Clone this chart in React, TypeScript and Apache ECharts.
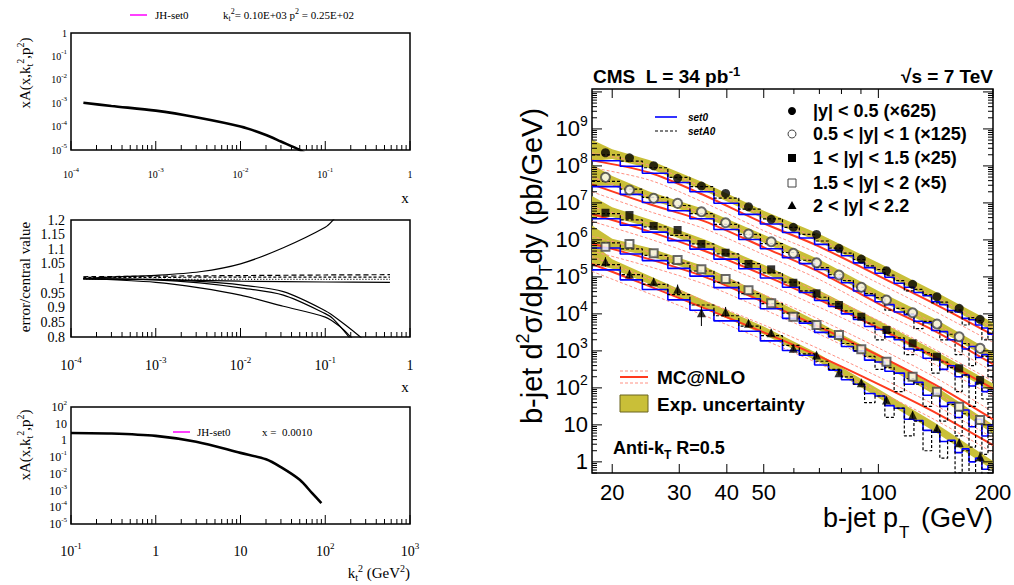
import React, { useEffect, useRef } from "react";
import * as echarts from "echarts";

const SERIF = '"Liberation Serif", "Times New Roman", serif';
const SANS = '"Liberation Sans", Arial, Helvetica, sans-serif';

// ===== Left panel 1: xA(x,kt2,p2) vs x =====
const p1X = [1.4e-4, 3e-4, 1e-3, 3e-3, 1e-2, 2e-2, 3e-2, 5e-2, 6e-2];
const p1Y = [1.05e-3, 7.6e-4, 4.8e-4, 2.5e-4, 1.0e-4, 4.4e-5, 2.3e-5, 1.0e-5, 6.5e-6];

// ===== Left panel 2: error / central value =====
const p2UpX = [1.4e-4, 3e-4, 1e-3, 3.3e-3, 1e-2, 3.2e-2, 0.1, 0.124, 0.15];
const p2UpY = [1.0, 1.005, 1.011, 1.023, 1.05, 1.105, 1.175, 1.2, 1.23];
const p2FlatX = [1.4e-4, 1e-3, 1e-2, 0.1, 0.58];
const p2Dash1 = [1.006, 1.008, 1.01, 1.012, 1.013];
const p2Dash2 = [1.004, 1.004, 1.005, 1.005, 1.005];
const p2Dot = [0.998, 0.997, 0.997, 0.997, 0.997];
const p2Solid = [0.998, 0.996, 0.991, 0.988, 0.987];
const p2AX = [1.4e-4, 1e-3, 3.3e-3, 1e-2, 3.2e-2, 0.1, 0.15, 0.26, 0.3];
const p2AY = [1.0, 0.997, 0.99, 0.978, 0.955, 0.89, 0.855, 0.8, 0.78];
const p2BX = [1.4e-4, 1e-3, 3.3e-3, 1e-2, 3.2e-2, 0.1, 0.124, 0.19, 0.22];
const p2BY = [1.0, 0.995, 0.985, 0.968, 0.943, 0.88, 0.862, 0.8, 0.77];
const p2CX = [1.4e-4, 1e-3, 3.3e-3, 1e-2, 3.2e-2, 0.1, 0.15, 0.2, 0.22];
const p2CY = [1.0, 0.987, 0.968, 0.943, 0.905, 0.868, 0.835, 0.8, 0.785];

// ===== Left panel 3: xA vs kt2 =====
const p3X = [0.1, 0.3, 1, 3, 10, 20, 30, 50, 70, 90];
const p3Y = [2.8, 2.6, 1.87, 0.83, 0.18, 0.074, 0.025, 4.4e-3, 7e-4, 1.8e-4];

// ===== Right panel: CMS b-jet cross section =====
const ptBins = [19.2, 22.2, 25.7, 29.7, 34.3, 39.7, 45.6, 52.3, 59.8, 68.8, 78.8, 90.2, 105, 123, 142.5, 163, 185];
const dataY1 = [2.27e8, 1.66e8, 1.01e8, 4.61e7, 2.86e7, 1.81e7, 7.87e6, 3.6e6, 2.19e6, 1.41e6, 5.92e5, 3.04e5, 1.47e5, 6.3e4, 2.91e4, 1.41e4, 7.13e3];
const dataY2 = [4.91e7, 2.23e7, 1.33e7, 9.73e6, 5.77e6, 2.91e6, 1.44e6, 8.91e5, 4.34e5, 2.42e5, 1.12e5, 5.22e4, 2.37e4, 1.07e4, 5.32e3, 2.42e3, 1.17e3];
const dataY3 = [5.42e6, 4.7e6, 2.37e6, 1.85e6, 7.73e5, 4.5e5, 2.23e5, 1.6e5, 6.95e4, 3.6e4, 1.74e4, 8.38e3, 3.66e3, 1.6e3, 695, 338, 163];
const dataY4 = [6.53e5, 7.73e5, 4.34e5, 2.86e5, 1.6e5, 8.75e4, 4.34e4, 1.93e4, 8.38e3, 5.0e3, 2.69e3, 1.1e3, 509, 200, 78.7, 31.0, 13.5];
const dataY5 = [2.57e5, 1.19e5, 7.4e4, 4.61e4, 1.07e4, 1.14e4, 5.56e3, 3.1e3, 1.17e3, 773, 257, 138, 47.0, 18.5, 8.07, 3.3, 1.38];
const triErrLo = [1.9e5, 9.2e4, 5.9e4, 3.4e4, 4.7e3, 8.4e3, 4.4e3, 2.5e3, 1.0e3, 660, 215, 115, 39, 15, 6.5, 2.6, 1.0];
const triErrHi = [3.4e5, 1.53e5, 9.3e4, 6.2e4, 1.56e4, 1.54e4, 7.0e3, 3.8e3, 1.35e3, 900, 305, 165, 57, 23, 10, 4.2, 1.9];

// experimental uncertainty band (log10 centre, half width in decades)
const bandPt = [17.7, 20, 25, 35, 50, 70, 100, 140, 200];
const bandHalf = [0.29, 0.13, 0.11, 0.11, 0.11, 0.11, 0.12, 0.12, 0.12];
const band1 = [8.42, 8.32, 8.05, 7.43, 6.68, 6.05, 5.26, 4.5, 3.65];
const band2 = [7.75, 7.6, 7.2, 6.72, 6.03, 5.36, 4.5, 3.76, 2.84];
const band3 = [6.9, 6.75, 6.45, 5.9, 5.22, 4.52, 3.7, 2.9, 2.0];
const band4 = [6.1, 5.9, 5.68, 5.17, 4.42, 3.66, 2.8, 1.95, 0.88];
const band5 = [5.65, 5.35, 4.92, 4.25, 3.55, 2.8, 1.85, 0.95, -0.1];

// MC@NLO (log10) and its scale uncertainty (decades)
const mcPt = [17.7, 25, 35, 50, 70, 100, 140, 200];
const mc1 = [8.15, 7.82, 7.2, 6.45, 5.82, 5.03, 4.28, 3.43];
const mc2 = [7.5, 6.97, 6.5, 5.8, 5.13, 4.28, 3.55, 2.64];
const mc3 = [6.7, 6.23, 5.7, 5.05, 4.38, 3.62, 2.85, 1.98];
const mc4 = [5.9, 5.48, 5.0, 4.32, 3.65, 2.88, 2.1, 1.15];
const mc5 = [5.35, 4.75, 4.15, 3.5, 2.85, 2.1, 1.35, 0.45];
const mcUnc = [0.2, 0.2, 0.2, 0.2, 0.2, 0.2, 0.2, 0.2];

// CASCADE histograms set0 / setA0 (log10 per bin)
const histEdges = [17.7, 21, 24, 28, 32, 37, 43, 49, 56, 62, 68, 74, 80, 86, 92, 98, 104, 110, 117, 124, 131, 138, 145, 152, 159, 166, 173, 180, 187, 194, 200];
const set0_1 = [8.14, 7.99, 7.8, 7.55, 7.3, 6.99, 6.69, 6.43, 6.2, 6.05, 5.88, 5.72, 5.57, 5.38, 5.25, 5.1, 4.99, 4.83, 4.72, 4.58, 4.49, 4.33, 4.25, 4.09, 4.05, 3.88, 3.84, 3.7, 3.62, 3.45];
const setA0_1 = [8.3, 8.13, 7.95, 7.69, 7.44, 7.13, 6.83, 6.57, 6.34, 6.15, 5.97, 5.78, 5.64, 5.47, 5.3, 5.2, 5.05, 4.9, 4.62, 4.66, 4.52, 4.3, 4.32, 4.05, 4.1, 3.7, 3.9, 3.82, 3.3, 3.6];
const set0_2 = [7.44, 7.23, 7.01, 6.79, 6.57, 6.28, 6.01, 5.76, 5.52, 5.36, 5.2, 4.98, 4.84, 4.62, 4.5, 4.33, 4.25, 4.05, 3.98, 3.8, 3.76, 3.55, 3.52, 3.3, 3.28, 3.05, 3.12, 2.82, 2.9, 2.6];
const setA0_2 = [7.58, 7.37, 7.15, 6.93, 6.71, 6.42, 6.15, 5.9, 5.66, 5.45, 5.25, 5.06, 4.9, 4.72, 4.55, 4.44, 4.1, 4.15, 4.0, 3.6, 3.8, 3.65, 3.3, 3.45, 2.9, 3.2, 2.6, 3.0, 2.85, 2.3];
const set0_3 = [6.57, 6.4, 6.21, 5.98, 5.75, 5.48, 5.22, 4.97, 4.72, 4.58, 4.36, 4.2, 4.0, 3.85, 3.66, 3.58, 3.38, 3.3, 3.05, 3.02, 2.8, 2.78, 2.5, 2.6, 2.3, 2.35, 2.05, 2.15, 1.9, 1.95];
const setA0_3 = [6.71, 6.54, 6.35, 6.12, 5.89, 5.62, 5.36, 5.11, 4.86, 4.62, 4.45, 4.27, 4.08, 3.9, 3.75, 3.3, 3.5, 3.35, 2.9, 3.05, 2.95, 2.4, 2.7, 2.55, 1.9, 2.35, 1.5, 2.1, 1.7, 1.2];
const set0_4 = [5.78, 5.62, 5.44, 5.23, 5.02, 4.71, 4.41, 4.14, 3.88, 3.75, 3.5, 3.38, 3.12, 3.0, 2.75, 2.7, 2.45, 2.4, 2.1, 2.15, 1.8, 1.85, 1.5, 1.6, 1.2, 1.4, 0.95, 1.15, 0.7, 1.0];
const setA0_4 = [5.92, 5.76, 5.58, 5.37, 5.16, 4.85, 4.55, 4.28, 4.02, 3.8, 3.6, 3.4, 3.2, 3.0, 2.85, 2.5, 2.55, 1.9, 2.25, 2.1, 1.5, 1.85, 1.1, 1.55, 0.7, 1.3, 0.4, 1.05, 0.2, 0.85];
const set0_5 = [5.19, 4.92, 4.66, 4.38, 4.1, 3.81, 3.53, 3.27, 3.01, 2.88, 2.62, 2.48, 2.22, 2.1, 1.85, 1.78, 1.52, 1.45, 1.15, 1.12, 0.85, 0.8, 0.55, 0.58, 0.25, 0.35, 0.0, 0.1, -0.2, -0.1];
const setA0_5 = [5.33, 5.06, 4.8, 4.52, 4.24, 3.95, 3.67, 3.41, 3.15, 2.92, 2.72, 2.5, 2.3, 2.1, 1.6, 1.78, 1.2, 1.45, 0.7, 1.1, 0.3, 0.85, 0.1, 0.55, -0.3, 0.3, -0.4, 0.05, -0.5, -0.2];

const legendRows = ["|y| < 0.5 (×625)", "0.5 < |y| < 1 (×125)", "1 < |y| < 1.5 (×25)", "1.5 < |y| < 2 (×5)", "2 < |y| < 2.2"];

// axis ranges
const RX = [17.7, 200];
const RY = [0.5, 1.2e10];
const rXMajor = [20, 30, 40, 50, 100, 200];
const rXMinor = [60, 70, 80, 90];

const pw = (v: number) => Math.pow(10, v);

function decRich(v: number) {
  const e = Math.round(Math.log10(v));
  if (e === 0) return "{b|1}";
  if (e === 1) return "{b|10}";
  return "{b|10}{s|" + e + "}";
}
function richFor(size: number, sup: number, raise: number, family: string) {
  const sh = sup + 1 + 2 * raise;
  return {
    b: { fontFamily: family, fontSize: size, lineHeight: Math.max(size + 3, sh), verticalAlign: "middle", color: "#000" },
    s: { fontFamily: family, fontSize: sup, lineHeight: sup + 1, padding: [0, 0, 2 * raise, 0], verticalAlign: "middle", color: "#000" },
  };
}
// rich styles for text with sub (u) and superscripts (p)
function mkRich(family: string, size: number, weight: string, small: number, subShift: number, supShift: number) {
  return {
    a: { fontFamily: family, fontSize: size, fontWeight: weight, color: "#000", lineHeight: size + 2, verticalAlign: "middle" },
    u: { fontFamily: family, fontSize: small, fontWeight: weight, color: "#000", lineHeight: small, padding: [2 * subShift, 0, 0, 0], verticalAlign: "middle" },
    p: { fontFamily: family, fontSize: small, fontWeight: weight, color: "#000", lineHeight: small, padding: [0, 0, 2 * supShift, 0], verticalAlign: "middle" },
  };
}

function logTicks(min: number, max: number) {
  const out: any[] = [];
  const e0 = Math.floor(Math.log10(min));
  const e1 = Math.ceil(Math.log10(max));
  for (let e = e0; e <= e1; e++) {
    for (let d = 1; d <= 9; d++) {
      const v = d * Math.pow(10, e);
      if (v >= min * 0.999 && v <= max * 1.001) out.push({ v, major: d === 1 });
    }
  }
  return out;
}

function leftTickSeries(idx: number, xmin: number, xmax: number, yRef: number) {
  const items = logTicks(xmin, xmax);
  return {
    type: "custom",
    xAxisIndex: idx,
    yAxisIndex: idx,
    clip: false,
    silent: true,
    z: 20,
    data: items.map((t) => [t.v, yRef]),
    renderItem: (params: any, api: any) => {
      const t = items[params.dataIndex];
      const cs = params.coordSys;
      const x = api.coord([t.v, yRef])[0];
      const b = cs.y + cs.height;
      const len = t.major ? 9 : 5;
      return { type: "line", shape: { x1: x, y1: b, x2: x, y2: b - len }, style: { stroke: "#000", lineWidth: 1 } };
    },
  };
}

function rightTickSeries() {
  const items: any[] = [];
  rXMajor.forEach((v) => items.push({ ax: 0, v, len: 9, label: String(v) }));
  rXMinor.forEach((v) => items.push({ ax: 0, v, len: 5 }));
  logTicks(RY[0], RY[1]).forEach((t) => {
    const e = Math.round(Math.log10(t.v));
    items.push({ ax: 1, v: t.v, len: t.major ? 10 : 5, exp: t.major && e <= 9 ? e : null });
  });
  return {
    type: "custom",
    xAxisIndex: 3,
    yAxisIndex: 3,
    clip: false,
    silent: true,
    z: 30,
    data: items.map((t) => (t.ax === 0 ? [t.v, RY[0]] : [RX[0], t.v])),
    renderItem: (params: any, api: any) => {
      const t = items[params.dataIndex];
      const cs = params.coordSys;
      const st = { stroke: "#000", lineWidth: 1 };
      const ch: any[] = [];
      if (t.ax === 0) {
        const x = api.coord([t.v, RY[0]])[0];
        const b = cs.y + cs.height;
        ch.push({ type: "line", shape: { x1: x, y1: b, x2: x, y2: b - t.len }, style: st });
        ch.push({ type: "line", shape: { x1: x, y1: cs.y, x2: x, y2: cs.y + t.len }, style: st });
        if (t.label) {
          ch.push({ type: "text", x, y: b + 19, style: { text: t.label, textAlign: "center", textVerticalAlign: "middle", font: '22px ' + SANS, fill: "#000" } });
        }
      } else {
        const y = api.coord([RX[0], t.v])[1];
        const r = cs.x + cs.width;
        ch.push({ type: "line", shape: { x1: cs.x, y1: y, x2: cs.x + t.len, y2: y }, style: st });
        ch.push({ type: "line", shape: { x1: r, y1: y, x2: r - t.len, y2: y }, style: st });
        if (t.exp !== null && t.exp !== undefined) {
          const right = cs.x - 4;
          if (t.exp <= 1) {
            ch.push({ type: "text", x: right, y, style: { text: t.exp === 0 ? "1" : "10", textAlign: "right", textVerticalAlign: "middle", font: '22px ' + SANS, fill: "#000" } });
          } else {
            ch.push({ type: "text", x: right - 8, y, style: { text: "10", textAlign: "right", textVerticalAlign: "middle", font: '22px ' + SANS, fill: "#000" } });
            ch.push({ type: "text", x: right - 8, y: y - 8, style: { text: String(t.exp), textAlign: "left", textVerticalAlign: "middle", font: '14px ' + SANS, fill: "#000" } });
          }
        }
      }
      return { type: "group", children: ch };
    },
  };
}

function lineS(idx: number, xs: number[], ys: number[], style: any, z = 5) {
  return {
    type: "line",
    xAxisIndex: idx,
    yAxisIndex: idx,
    data: xs.map((x, i) => [x, ys[i]]),
    showSymbol: false,
    smooth: 0.3,
    clip: true,
    silent: true,
    z,
    lineStyle: style,
  };
}

function buildOption() {
  const bands = [band1, band2, band3, band4, band5];
  const mcs = [mc1, mc2, mc3, mc4, mc5];
  const set0 = [set0_1, set0_2, set0_3, set0_4, set0_5];
  const setA0 = [setA0_1, setA0_2, setA0_3, setA0_4, setA0_5];
  const datas = [dataY1, dataY2, dataY3, dataY4, dataY5];
  const symbols = ["circle", "emptyCircle", "rect", "emptyRect", "triangle"];
  const sizes = [9, 9, 8, 8, 9];

  const series: any[] = [];
  // left panels
  series.push(lineS(0, p1X, p1Y, { color: "#000", width: 2.6 }));
  series.push(lineS(1, p2UpX, p2UpY, { color: "#000", width: 1.2 }));
  series.push(lineS(1, p2FlatX, p2Dash1, { color: "#000", width: 1.2, type: [5, 3] }));
  series.push(lineS(1, p2FlatX, p2Dash2, { color: "#000", width: 1.2, type: [3, 2] }));
  series.push(lineS(1, p2FlatX, p2Dot, { color: "#000", width: 1.2, type: [1, 2] }));
  series.push(lineS(1, p2FlatX, p2Solid, { color: "#000", width: 1.2 }));
  series.push(lineS(1, p2AX, p2AY, { color: "#000", width: 1.2 }));
  series.push(lineS(1, p2BX, p2BY, { color: "#000", width: 1.2 }));
  series.push(lineS(1, p2CX, p2CY, { color: "#000", width: 1.2 }));
  series.push(lineS(2, p3X, p3Y, { color: "#000", width: 2.6 }));
  series.push(leftTickSeries(0, 1e-4, 1, 1e-5));
  series.push(leftTickSeries(1, 1e-4, 1, 0.8));
  series.push(leftTickSeries(2, 0.1, 1000, 1e-5));

  // right: bands
  series.push({
    type: "custom",
    xAxisIndex: 3,
    yAxisIndex: 3,
    clip: true,
    silent: true,
    z: 1,
    data: bands.map((b) => [bandPt[0], pw(b[0])]),
    renderItem: (params: any, api: any) => {
      const c = bands[params.dataIndex];
      const up = bandPt.map((p, j) => api.coord([p, pw(c[j] + bandHalf[j])]));
      const lo = bandPt.map((p, j) => api.coord([p, pw(c[j] - bandHalf[j])])).reverse();
      return { type: "polygon", shape: { points: up.concat(lo) }, style: { fill: "#c9bf38", stroke: "none" } };
    },
  });
  for (let s = 0; s < 5; s++) {
    const m = mcs[s];
    series.push(lineS(3, mcPt, m.map((v, j) => pw(v + mcUnc[j])), { color: "#ff9082", width: 1, type: [3, 2] }, 2));
    series.push(lineS(3, mcPt, m.map((v, j) => pw(v - mcUnc[j])), { color: "#ff9082", width: 1, type: [3, 2] }, 2));
    series.push(lineS(3, mcPt, m.map((v) => pw(v)), { color: "#ff3a1e", width: 2 }, 3));
    const h0 = set0[s].map((v, j) => [histEdges[j], pw(v)]);
    h0.push([histEdges[histEdges.length - 1], pw(set0[s][set0[s].length - 1])]);
    series.push({ type: "line", xAxisIndex: 3, yAxisIndex: 3, data: h0, step: "end", showSymbol: false, clip: true, silent: true, z: 4, lineStyle: { color: "#0000ff", width: 1.6 } });
    const hA = setA0[s].map((v, j) => [histEdges[j], pw(v)]);
    hA.push([histEdges[histEdges.length - 1], pw(setA0[s][setA0[s].length - 1])]);
    series.push({ type: "line", xAxisIndex: 3, yAxisIndex: 3, data: hA, step: "end", showSymbol: false, clip: true, silent: true, z: 5, lineStyle: { color: "#000", width: 1.2, type: [3, 2] } });
  }
  // error bars on the 2<|y|<2.2 points
  series.push({
    type: "custom",
    xAxisIndex: 3,
    yAxisIndex: 3,
    clip: true,
    silent: true,
    z: 6,
    data: ptBins.map((p, i) => [p, triErrLo[i], triErrHi[i]]),
    renderItem: (params: any, api: any) => {
      const a = api.coord([api.value(0), api.value(1)]);
      const b = api.coord([api.value(0), api.value(2)]);
      return { type: "line", shape: { x1: a[0], y1: a[1], x2: b[0], y2: b[1] }, style: { stroke: "#000", lineWidth: 1 } };
    },
  });
  for (let s = 0; s < 5; s++) {
    const empty = symbols[s].indexOf("empty") === 0;
    series.push({
      type: "scatter",
      xAxisIndex: 3,
      yAxisIndex: 3,
      symbol: symbols[s],
      symbolSize: sizes[s],
      silent: true,
      z: 7,
      itemStyle: empty ? { color: "#444", borderColor: "#444", borderWidth: 1 } : { color: "#000" },
      data: ptBins.map((p, i) => [p, datas[s][i]]),
    });
  }
  series.push(rightTickSeries());

  const hidden = { axisLine: { show: false }, axisTick: { show: false }, splitLine: { show: false }, minorTick: { show: false } };

  const grids = [
    { left: 71, top: 33, width: 339, height: 117 },
    { left: 71, top: 220, width: 339, height: 117 },
    { left: 71, top: 407, width: 339, height: 117 },
    { left: 592, top: 89, width: 401, height: 384 },
  ].map((g) => ({ ...g, show: true, borderColor: "#000", borderWidth: 1.5, backgroundColor: "transparent", containLabel: false }));

  const xAxis = [
    { type: "log", gridIndex: 0, min: 1e-4, max: 1, ...hidden, axisLabel: { formatter: decRich, margin: 16, showMinLabel: true, showMaxLabel: true, rich: richFor(10, 7, 4, SERIF) } },
    { type: "log", gridIndex: 1, min: 1e-4, max: 1, ...hidden, axisLabel: { formatter: decRich, margin: 18, showMinLabel: true, showMaxLabel: true, rich: richFor(14, 9, 5, SERIF) } },
    { type: "log", gridIndex: 2, min: 0.1, max: 1000, ...hidden, axisLabel: { formatter: decRich, margin: 17, showMinLabel: true, showMaxLabel: true, rich: richFor(14, 9, 5, SERIF) } },
    { type: "log", gridIndex: 3, min: RX[0], max: RX[1], ...hidden, axisLabel: { show: false } },
  ];
  const yAxis = [
    { type: "log", gridIndex: 0, min: 1e-5, max: 1, ...hidden, axisLabel: { formatter: decRich, margin: 4, showMinLabel: true, showMaxLabel: true, rich: richFor(10, 7, 4, SERIF) } },
    {
      type: "value", gridIndex: 1, min: 0.8, max: 1.2, interval: 0.05, ...hidden,
      axisLabel: { formatter: (v: number) => String(parseFloat(v.toFixed(2))), margin: 6, fontFamily: SERIF, fontSize: 14, color: "#000", showMinLabel: true, showMaxLabel: true },
    },
    { type: "log", gridIndex: 2, min: 1e-5, max: 100, ...hidden, axisLabel: { formatter: decRich, margin: 4, showMinLabel: true, showMaxLabel: true, rich: richFor(12, 7, 4, SERIF) } },
    { type: "log", gridIndex: 3, min: RY[0], max: RY[1], ...hidden, axisLabel: { show: false } },
  ];

  const txt = (x: number, y: number, text: string, font: string, align = "left", extra: any = {}) => ({
    type: "text", x, y, silent: true, z: 100, ...extra,
    style: { text, font, fill: "#000", textAlign: align, textVerticalAlign: "middle" },
  });
  const rtxt = (x: number, y: number, text: string, rich: any, align = "left", rotation = 0) => ({
    type: "text", x, y, rotation, silent: true, z: 100,
    style: { text, rich, textAlign: align, textVerticalAlign: "middle" },
  });
  const seg = (x1: number, y1: number, x2: number, y2: number, stroke: string, lineWidth: number, lineDash?: number[]) => ({
    type: "line", silent: true, z: 100, shape: { x1, y1, x2, y2 }, style: { stroke, lineWidth, lineDash },
  });

  const serif15 = mkRich(SERIF, 15, "normal", 10, 4, 5);
  const serif11 = mkRich(SERIF, 11, "normal", 8, 3, 4);

  const graphic: any[] = [
    // left panel 1
    seg(130, 15, 147, 15, "#ff00ff", 1.5),
    txt(155, 15, "JH-set0", "11px " + SERIF),
    rtxt(223, 15, "{a|k}{u|t}{p|2}{a|= 0.10E+03 p}{p|2}{a| = 0.25E+02}", serif11),
    txt(405, 198, "x", "15px " + SERIF, "center"),
    rtxt(25, 73, "{a|xA(x,k}{u|t}{p|2}{a|,p}{p|2}{a|)}", serif15, "center", Math.PI / 2),
    // left panel 2
    txt(25, 277, "error/central value", "15px " + SERIF, "center", { rotation: Math.PI / 2 }),
    txt(405, 387, "x", "15px " + SERIF, "center"),
    // left panel 3
    seg(173, 432, 190, 432, "#ff00ff", 1.5),
    txt(197, 432, "JH-set0", "11px " + SERIF),
    txt(262, 432, "x =  0.0010", "11px " + SERIF),
    rtxt(25, 445, "{a|xA(x,k}{u|t}{p|2}{a|,p}{p|2}{a|)}", serif15, "center", Math.PI / 2),
    rtxt(410, 573, "{a|k}{u|t}{p|2}{a| (GeV}{p|2}{a|)}", serif15, "right"),
    // right panel
    rtxt(593, 76, "{a|CMS  L = 34 pb}{p|-1}", mkRich(SANS, 19, "bold", 13, 5, 5)),
    rtxt(993, 76, "{a|√s = 7 TeV}", mkRich(SANS, 19, "bold", 13, 5, 5), "right"),
    rtxt(532, 266, "{a|b-jet d}{p|2}{a|σ/dp}{u|T}{a|dy (pb/GeV)}", mkRich(SANS, 29, "normal", 18, 14, 9), "center", Math.PI / 2),
    txt(898, 518, "b-jet p", "27px " + SANS, "right"),
    txt(899, 532, "T", "17px " + SANS, "left"),
    txt(993, 518, "(GeV)", "27px " + SANS, "right"),
    rtxt(613, 448, "{a|Anti-k}{u|T}{a| R=0.5}", mkRich(SANS, 18, "bold", 12, 7, 5)),
    seg(655, 117, 677, 117, "#0000ff", 1.6),
    seg(655, 131, 677, 131, "#000", 1.2, [3, 2]),
    txt(688, 117, "set0", "italic bold 10px " + SANS),
    txt(688, 131, "setA0", "italic bold 10px " + SANS),
    seg(620, 371, 648, 371, "#ff9082", 1, [3, 2]),
    seg(620, 383, 648, 383, "#ff9082", 1, [3, 2]),
    seg(620, 377, 648, 377, "#ff3a1e", 2),
    txt(657, 377, "MC@NLO", "bold 19px " + SANS),
    { type: "rect", silent: true, z: 100, shape: { x: 620, y: 395, width: 28, height: 17 }, style: { fill: "#c9bf38", stroke: "#6b6420", lineWidth: 1 } },
    txt(657, 404, "Exp. uncertainty", "bold 19px " + SANS),
    // rapidity legend
    { type: "circle", silent: true, z: 100, shape: { cx: 792, cy: 111, r: 4 }, style: { fill: "#000" } },
    { type: "circle", silent: true, z: 100, shape: { cx: 792, cy: 134, r: 4 }, style: { fill: "#fff", stroke: "#444", lineWidth: 1 } },
    { type: "rect", silent: true, z: 100, shape: { x: 788, y: 154, width: 8, height: 8 }, style: { fill: "#000" } },
    { type: "rect", silent: true, z: 100, shape: { x: 788, y: 179, width: 8, height: 8 }, style: { fill: "#fff", stroke: "#444", lineWidth: 1 } },
    { type: "polygon", silent: true, z: 100, shape: { points: [[792, 201], [796.5, 209], [787.5, 209]] }, style: { fill: "#000" } },
  ];
  legendRows.forEach((t, i) => graphic.push(txt(813, [111, 134, 158, 183, 206][i], t, "bold 18px " + SANS)));

  return {
    animation: false,
    backgroundColor: "#fff",
    grid: grids,
    xAxis,
    yAxis,
    series,
    graphic,
  };
}

export default function App() {
  const ref = useRef<HTMLDivElement>(null);
  useEffect(() => {
    document.body.style.margin = "0";
    const chart = echarts.init(ref.current as HTMLDivElement, undefined, { renderer: "svg", width: 1014, height: 585 });
    chart.setOption(buildOption() as any);
    return () => chart.dispose();
  }, []);
  return <div ref={ref} style={{ width: 1014, height: 585, position: "absolute", left: 0, top: 0 }} />;
}
